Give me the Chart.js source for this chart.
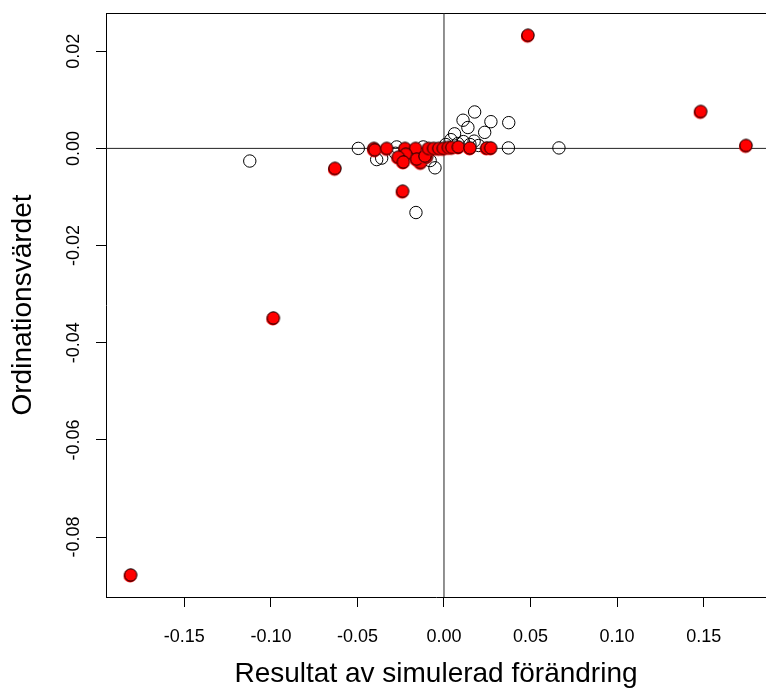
<!DOCTYPE html>
<html>
<head>
<meta charset="utf-8">
<script src="https://cdn.jsdelivr.net/npm/chart.js@4/dist/chart.umd.min.js"></script>
<style>
  html, body { margin: 0; padding: 0; background: #fff; overflow: hidden; }
  #wrap { width: 766px; height: 688px; }
</style>
</head>
<body>
<div id="wrap"><canvas id="chart" width="766" height="688"></canvas></div>
<script>
// tick labels
const xTicks = [-0.15, -0.10, -0.05, 0, 0.05, 0.10, 0.15];
const yTicks = [-0.08, -0.06, -0.04, -0.02, 0, 0.02];

// filled (red) points
const redX = [-0.181, -0.0986, -0.063, -0.0239, 0.0485, 0.1483, 0.1745,
  -0.0405, -0.0400, -0.0331, -0.0225, -0.0164, -0.0221, -0.0264, -0.0235, -0.0135,
  -0.0158, -0.0100, -0.0110, -0.0090, -0.0060, -0.0030, -0.0004, 0.0025, 0.0045,
  0.0083, 0.0150, 0.0247, 0.0270];
const redY = [-0.0878, -0.0349, -0.0041, -0.0088, 0.0233, 0.0076, 0.0006,
  0.0, -0.0003, 0.0, 0.0, 0.0, -0.0012, -0.0018, -0.0028, -0.0029,
  -0.0022, -0.0017, -0.0016, 0.0, 0.0, 0.0, 0.0, 0.0002, 0.0002,
  0.0003, 0.0001, 0.0001, 0.0001];

// open points
const openX = [-0.1122, -0.0495, -0.0389, -0.0360, -0.0052, -0.0162, 0.0372, 0.0664,
  0.0374, 0.0177, 0.0110, 0.0138, 0.0271, 0.0235, 0.0061, 0.0040, 0.0112, 0.0174,
  -0.0273, -0.0120, -0.0080, 0.0010, 0.0080, 0.0200, -0.0280, 0.0150];
const openY = [-0.0026, 0.0, -0.0023, -0.0020, -0.0040, -0.0132, 0.0001, 0.0001,
  0.0053, 0.0075, 0.0058, 0.0043, 0.0055, 0.0033, 0.0030, 0.0018, 0.0014, 0.0015,
  0.0003, 0.0003, -0.0025, 0.0008, 0.0010, 0.0006, -0.0010, 0.0008];

const font = '"Liberation Sans", Arial, Helvetica, sans-serif';

function redDot() {
  const c = document.createElement('canvas');
  c.width = 18; c.height = 18;
  const g = c.getContext('2d');
  g.fillStyle = '#ff0000';
  g.beginPath(); g.arc(8.5, 9.9, 6.6, 0, Math.PI * 2); g.fill();
  g.beginPath(); g.arc(9, 9, 6.2, 0, Math.PI * 2); g.fill();
  g.lineWidth = 1; g.strokeStyle = '#000'; g.stroke();
  return c;
}

// top border, zero lines and rotated y labels
const frame = {
  id: 'frame',
  beforeDatasetsDraw(chart) {
    const { ctx, chartArea: a, scales: { x, y } } = chart;
    ctx.save();
    ctx.strokeStyle = '#000';
    ctx.lineWidth = 1;
    ctx.beginPath();
    ctx.moveTo(a.left, a.top + 0.5); ctx.lineTo(a.right, a.top + 0.5);
    ctx.stroke();
    ctx.strokeStyle = '#222';
    const x0 = x.getPixelForValue(0), y0 = y.getPixelForValue(0);
    ctx.beginPath();
    ctx.moveTo(x0, a.top); ctx.lineTo(x0, a.bottom);
    ctx.moveTo(a.left, y0); ctx.lineTo(a.right, y0);
    ctx.stroke();
    ctx.restore();
  },
  afterDraw(chart) {
    const { ctx, scales: { y } } = chart;
    ctx.save();
    ctx.fillStyle = '#000';
    ctx.font = '18px ' + font;
    ctx.textAlign = 'center';
    ctx.textBaseline = 'alphabetic';
    yTicks.forEach(v => {
      ctx.save();
      ctx.translate(79, y.getPixelForValue(v));
      ctx.rotate(-Math.PI / 2);
      ctx.fillText(v.toFixed(2), 0, 0);
      ctx.restore();
    });
    ctx.restore();
  }
};

new Chart(document.getElementById('chart'), {
  type: 'scatter',
  data: {
    datasets: [
      {
        data: redX.map((x, i) => ({ x, y: redY[i] })),
        pointStyle: redDot(),
        pointRadius: 6
      },
      {
        data: openX.map((x, i) => ({ x, y: openY[i] })),
        pointStyle: 'circle',
        pointRadius: 6.2,
        borderColor: '#000',
        borderWidth: 1,
        backgroundColor: 'rgba(0,0,0,0)'
      }
    ]
  },
  options: {
    responsive: false,
    animation: false,
    events: [],
    layout: { autoPadding: false, padding: { top: 13, left: 0, right: 0, bottom: 0 } },
    plugins: { legend: { display: false }, tooltip: { enabled: false } },
    scales: {
      x: {
        type: 'linear',
        min: -0.19526, max: 0.18602,
        afterFit: s => { s.height = 91; s.paddingLeft = 0; s.paddingRight = 0; },
        afterBuildTicks: s => { s.ticks = xTicks.map(v => ({ value: v })); },
        grid: { drawOnChartArea: false, drawTicks: true, tickLength: 10, color: '#000', lineWidth: 1 },
        border: { display: true, color: '#000', width: 1 },
        ticks: {
          autoSkip: false, maxRotation: 0, padding: 19, color: '#000',
          font: { family: font, size: 18 },
          callback: v => Number(v).toFixed(2)
        },
        title: {
          display: true, text: 'Resultat av simulerad förändring', color: '#000',
          font: { family: font, size: 28, lineHeight: 1 }, padding: 0
        }
      },
      y: {
        type: 'linear',
        min: -0.09234, max: 0.02787,
        afterFit: s => { s.width = 106; s.paddingTop = 0; s.paddingBottom = 0; },
        afterBuildTicks: s => { s.ticks = yTicks.map(v => ({ value: v })); },
        grid: { drawOnChartArea: false, drawTicks: true, tickLength: 10, color: '#000', lineWidth: 1 },
        border: { display: true, color: '#000', width: 1 },
        ticks: { display: false },
        title: {
          display: true, text: 'Ordinationsvärdet', color: '#000',
          font: { family: font, size: 28, lineHeight: 1 }, padding: { top: 9, bottom: 0 }
        }
      }
    }
  },
  plugins: [frame]
});
</script>
</body>
</html>
